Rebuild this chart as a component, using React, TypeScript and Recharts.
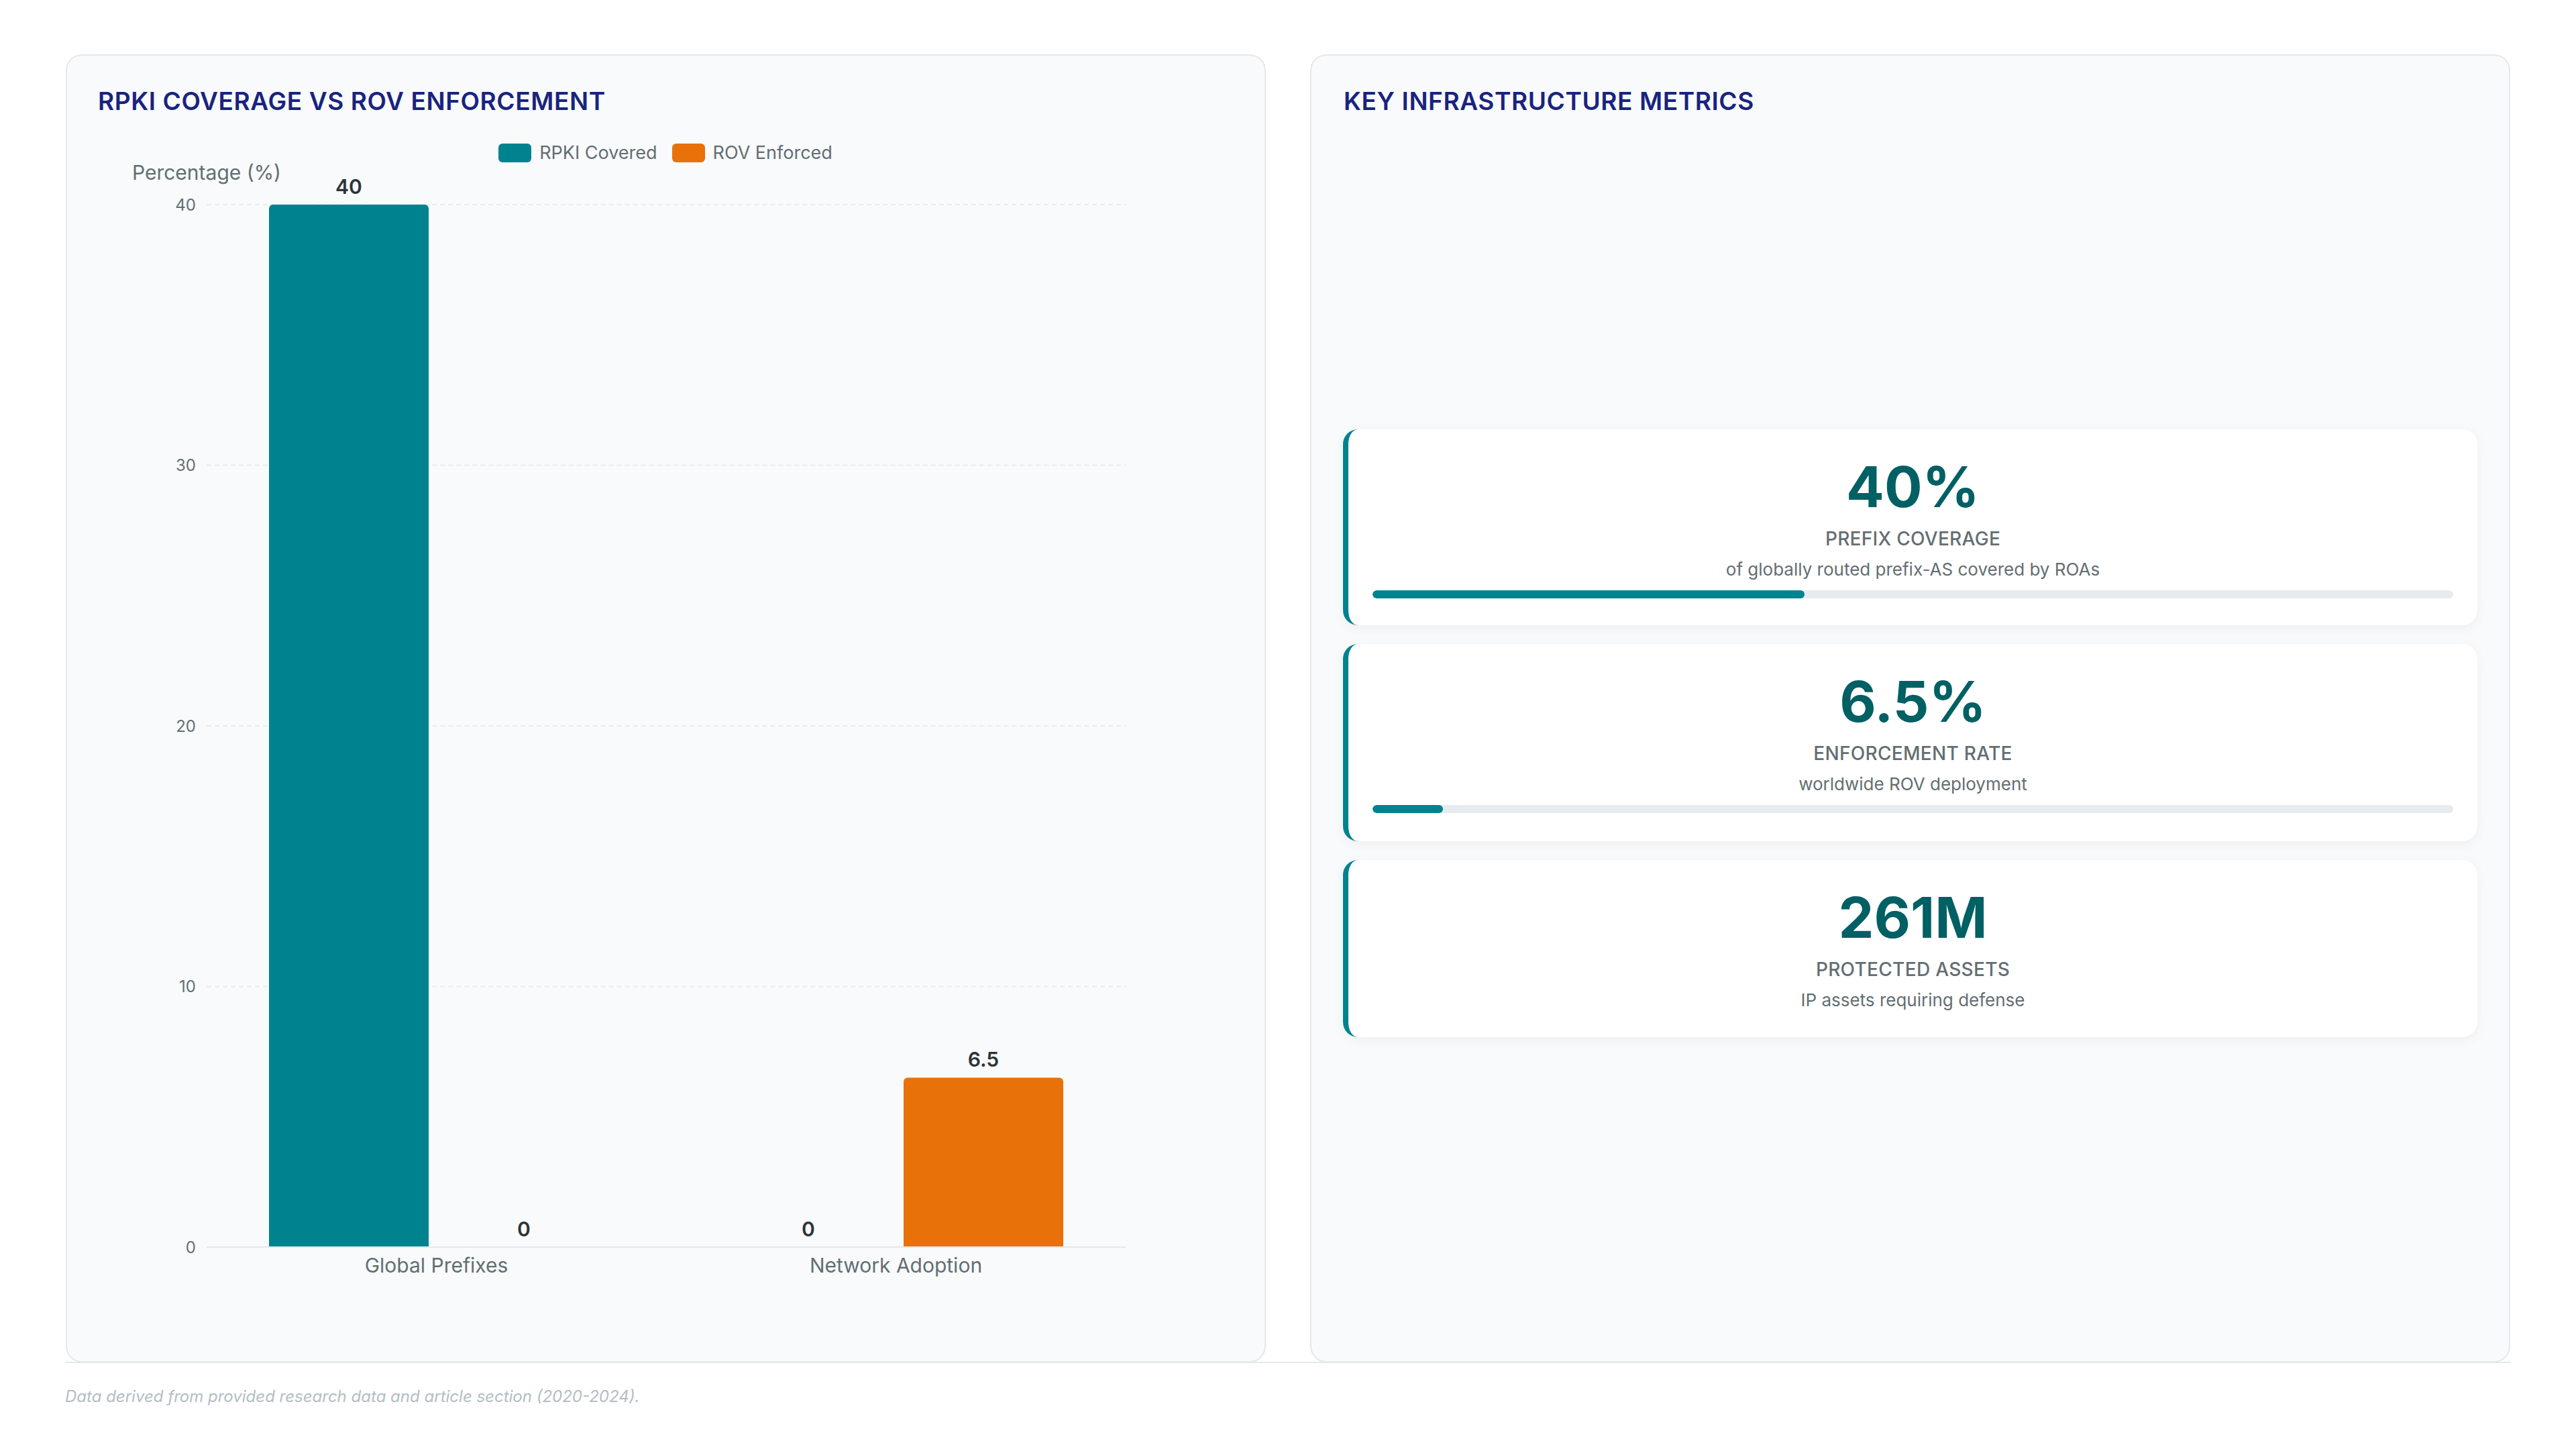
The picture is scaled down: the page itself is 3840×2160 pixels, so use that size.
import React from 'react';
import { BarChart, Bar, XAxis, YAxis, CartesianGrid, Legend, LabelList, Cell } from 'recharts';

const categories = ['Global Prefixes', 'Network Adoption'];
const rpkiCovered = [40, 0];
const rovEnforced = [0, 6.5];
const yTicks = [0, 10, 20, 30, 40];
const seriesNames = ['RPKI Covered', 'ROV Enforced'];
const seriesColors = ['#00838f', '#e8710a'];

const metricValues = ['40%', '6.5%', '261M'];
const metricLabels = ['PREFIX COVERAGE', 'ENFORCEMENT RATE', 'PROTECTED ASSETS'];
const metricSubs = ['of globally routed prefix-AS covered by ROAs', 'worldwide ROV deployment', 'IP assets requiring defense'];
const metricProgress: (number | null)[] = [40, 6.5, null];
const metricTops = [640, 960, 1282];
const metricHeights = [292, 294, 264];

const data = categories.map((c, i) => ({ category: c, rpki: rpkiCovered[i], rov: rovEnforced[i] }));

const FONT = 'Inter, "Noto Sans", sans-serif';
const GRAY = '#636e72';

const panelStyle: React.CSSProperties = {
  position: 'absolute',
  top: 81,
  width: 1789,
  height: 1950,
  boxSizing: 'border-box',
  background: '#f8fafc',
  border: '2px solid #e5e8ec',
  borderRadius: 24,
};

const titleStyle: React.CSSProperties = {
  position: 'absolute',
  top: 133,
  fontSize: 37,
  lineHeight: '36px',
  fontWeight: 600,
  color: '#1a237e',
  letterSpacing: 0.6,
  whiteSpace: 'nowrap',
};

const LegendContent = () => (
  <div style={{ display: 'flex', justifyContent: 'center', alignItems: 'center', height: 28, fontFamily: FONT }}>
    {seriesNames.map((name, i) => (
      <div key={name} style={{ display: 'flex', alignItems: 'center', marginRight: i < seriesNames.length - 1 ? 22 : 0 }}>
        <div style={{ width: 49, height: 28, borderRadius: 6, background: seriesColors[i] }} />
        <span style={{ marginLeft: 12, fontSize: 27, lineHeight: '28px', color: GRAY }}>{name}</span>
      </div>
    ))}
  </div>
);

const YLabel = (props: any) => {
  const vb = props.viewBox || {};
  return (
    <text x={(vb.x || 0) + (vb.width || 0)} y={(vb.y || 0) - 37} textAnchor="middle" fill={GRAY} fontSize={30} fontFamily={FONT}>
      Percentage (%)
    </text>
  );
};

const ValueLabel = (props: any) => {
  const { x, y, width, height, value } = props;
  if (value === undefined || value === null) return null;
  const top = Number(y) + Math.min(0, Number(height) || 0);
  const base = Number(value) === 0 ? Number(y) + (Number(height) || 0) : top;
  return (
    <text x={Number(x) + Number(width) / 2} y={base - 16} textAnchor="middle" fill="#2d3436" fontSize={30} fontWeight={600} fontFamily={FONT}>
      {String(value)}
    </text>
  );
};

export default function App() {
  return (
    <div style={{ position: 'absolute', left: 0, top: 0, width: 3840, height: 2160, background: '#ffffff', fontFamily: FONT, overflow: 'hidden' }}>
      <div style={{ position: 'absolute', left: 97, top: 2030, width: 3646, height: 2, background: '#e5e8ec' }} />
      <div style={{ ...panelStyle, left: 98 }} />
      <div style={{ ...panelStyle, left: 1953 }} />

      <div style={{ ...titleStyle, left: 146 }}>RPKI COVERAGE VS ROV ENFORCEMENT</div>
      <div style={{ ...titleStyle, left: 2003 }}>KEY INFRASTRUCTURE METRICS</div>

      <div style={{ position: 'absolute', left: 147, top: 195 }}>
        <BarChart
          width={1690}
          height={1724}
          data={data}
          margin={{ top: 82, right: 159, left: 0, bottom: 0 }}
          barSize={238}
          barGap={23}
          style={{ fontFamily: FONT }}
        >
          <CartesianGrid vertical={false} stroke="#e8ebef" strokeWidth={2} strokeDasharray="7 5" />
          <XAxis
            dataKey="category"
            height={60}
            tickLine={false}
            tickSize={0}
            tickMargin={17}
            axisLine={{ stroke: '#e5e8ec', strokeWidth: 2 }}
            tick={{ fill: GRAY, fontSize: 30, fontFamily: FONT }}
          />
          <YAxis
            width={161}
            domain={[0, 40]}
            ticks={yTicks}
            tickLine={false}
            tickSize={0}
            tickMargin={16}
            axisLine={false}
            tick={{ fill: GRAY, fontSize: 24, fontFamily: FONT }}
            label={{ content: YLabel }}
          />
          <Legend verticalAlign="top" align="center" content={LegendContent} wrapperStyle={{ top: 19, left: 0, width: 1690 }} />
          <Bar dataKey="rpki" name={seriesNames[0]} fill={seriesColors[0]} radius={[6, 6, 0, 0]} minPointSize={1} isAnimationActive={false}>
            {rpkiCovered.map((v, i) => (
              <Cell key={i} fill={v === 0 ? 'transparent' : seriesColors[0]} />
            ))}
            <LabelList dataKey="rpki" position="top" content={ValueLabel} />
          </Bar>
          <Bar dataKey="rov" name={seriesNames[1]} fill={seriesColors[1]} radius={[6, 6, 0, 0]} minPointSize={1} isAnimationActive={false}>
            {rovEnforced.map((v, i) => (
              <Cell key={i} fill={v === 0 ? 'transparent' : seriesColors[1]} />
            ))}
            <LabelList dataKey="rov" position="top" content={ValueLabel} />
          </Bar>
        </BarChart>
      </div>

      {metricValues.map((v, i) => (
        <div
          key={i}
          style={{
            position: 'absolute',
            left: 2002,
            top: metricTops[i],
            width: 1691,
            height: metricHeights[i],
            boxSizing: 'border-box',
            background: '#ffffff',
            borderLeft: '8px solid #00838f',
            borderRadius: 22,
            boxShadow: '0 4px 18px rgba(0,0,0,0.05)',
            padding: '43.5px 36px 0 36px',
            textAlign: 'center',
          }}
        >
          <div style={{ fontSize: 84, lineHeight: '84px', fontWeight: 700, color: '#006064' }}>{v}</div>
          <div style={{ marginTop: 19.3, fontSize: 28, lineHeight: '32px', fontWeight: 500, color: GRAY, letterSpacing: 0.3 }}>{metricLabels[i]}</div>
          <div style={{ marginTop: 14.75, fontSize: 26, lineHeight: '30px', color: GRAY }}>{metricSubs[i]}</div>
          {metricProgress[i] !== null && (
            <div style={{ marginTop: 16.45, height: 12, borderRadius: 6, background: '#e6ebef', overflow: 'hidden' }}>
              <div style={{ width: `${metricProgress[i]}%`, height: '100%', borderRadius: 6, background: '#00838f' }} />
            </div>
          )}
        </div>
      ))}

      <div style={{ position: 'absolute', left: 97, top: 2070, fontSize: 24, lineHeight: '24px', fontStyle: 'italic', color: '#b2bec3', whiteSpace: 'nowrap' }}>
        Data derived from provided research data and article section (2020-2024).
      </div>
    </div>
  );
}
